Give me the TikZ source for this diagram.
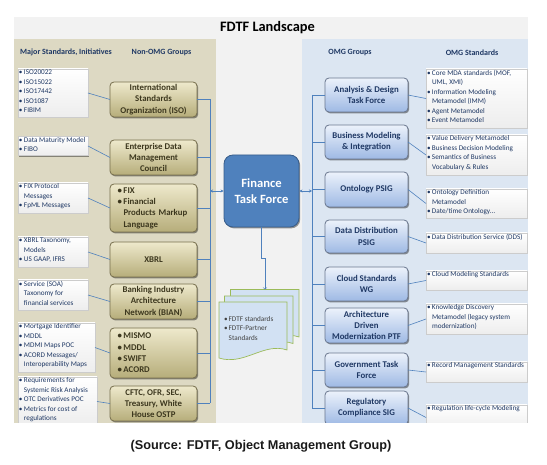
\documentclass[tikz,border=0pt]{standalone}
\usepackage{fontspec}
\setmainfont{Carlito}
\newfontfamily\captionfont{Liberation Sans}
\usetikzlibrary{shadows,arrows.meta}

\newlength{\du}
\setlength{\du}{1pt}

\definecolor{pagegray}{RGB}{242,242,242}
\definecolor{tanpanel}{RGB}{221,217,195}
\definecolor{bluepanel}{RGB}{220,230,242}
\definecolor{tantop}{RGB}{238,233,204}
\definecolor{tanbot}{RGB}{182,173,122}
\definecolor{tanedge}{RGB}{118,110,76}
\definecolor{tantext}{RGB}{60,55,30}
\definecolor{bluetop}{RGB}{236,242,251}
\definecolor{bluebot}{RGB}{158,185,228}
\definecolor{blueedge}{RGB}{105,118,142}
\definecolor{navytext}{RGB}{31,56,100}
\definecolor{linkblue}{RGB}{79,129,189}
\definecolor{ftfblue}{RGB}{79,129,189}
\definecolor{ftfedge}{RGB}{56,93,138}
\definecolor{docfill}{RGB}{210,225,243}
\definecolor{docedge}{RGB}{155,187,89}

\newcommand{\itm}[2][5pt]{\makebox[#1][l]{\textbullet}#2}
\newcommand{\cnt}[2][5pt]{\hspace*{#1}#2}
\newcommand{\stdtext}[3]{\parbox[c][#2][t]{#1}{\raggedright #3}}

\tikzset{
  boxshadow/.style={drop shadow={shadow xshift=1.2pt,shadow yshift=-1.4pt,opacity=0.4,fill=black}},
  stdbox/.style={draw=gray!40, line width=0.4pt, top color=white, bottom color=gray!14,
    inner sep=1pt, outer sep=0pt, font=\fontsize{7.2}{9.5}\selectfont, text=navytext, boxshadow},
  tanbox/.style={draw=tanedge, line width=0.8pt, rounded corners=4pt, top color=tantop,
    bottom color=tanbot, minimum width=87\du, align=center, inner sep=1pt, outer sep=0pt,
    font=\fontsize{8.8}{11.3}\selectfont\bfseries, text=tantext, boxshadow},
  groupbox/.style={draw=blueedge, line width=0.8pt, rounded corners=4pt, top color=bluetop,
    bottom color=bluebot, minimum width=83\du, align=center, inner sep=1pt, outer sep=0pt,
    font=\fontsize{8.8}{11.2}\selectfont\bfseries, text=navytext, boxshadow},
  ftfbox/.style={draw=ftfedge, line width=0.8pt, fill=ftfblue, rounded corners=9pt,
    minimum width=75\du, minimum height=72\du, align=center, text=white,
    font=\fontsize{12.6}{16.5}\selectfont\bfseries, boxshadow},
  header/.style={font=\fontsize{8}{9.6}\selectfont\bfseries, text=navytext},
  link/.style={draw=linkblue, line width=0.6pt},
  docsheet/.style={fill=docfill, draw=docedge, line width=0.7pt},
}

\begin{document}
\begin{tikzpicture}
\pgftransformxscale{1.000000}
\pgftransformyscale{-1.000000}
\useasboundingbox (0\du,0\du) rectangle (547\du,465\du);
% panels
\fill[pagegray] (14\du,17\du) rectangle (528\du,423\du);
\fill[tanpanel] (14\du,39\du) rectangle (216\du,423\du);
\fill[bluepanel] (302\du,39\du) rectangle (528\du,423\du);
\node[font=\bfseries\fontsize{14.4}{17}\selectfont] (title) at (267.5\du,28\du) {FDTF Landscape};
\node[header] (hmajor) at (66\du,52\du) {Major Standards, Initiatives};
\node[header] (hnonomg) at (161.5\du,53\du) {Non-OMG Groups};
\node[header] (homg) at (350\du,53\du) {OMG Groups};
\node[header] (homgstd) at (472\du,53\du) {OMG Standards};
\coordinate (lbus) at (210\du,0\du);
\coordinate (rbus) at (312\du,0\du);
\begin{scope}
\clip (14\du,17\du) rectangle (528\du,423\du);
% major standards
\node[stdbox] (ls1) at (53\du,93\du) {\stdtext{68\du}{46\du}{\itm{ISO20022}\\\itm{ISO15022}\\\itm{ISO17442}\\\itm{ISO1087}\\\itm{FIBIM}}};
\node[stdbox] (ls2) at (53\du,146\du) {\stdtext{68\du}{17\du}{\itm{Data Maturity Model}\\\itm{FIBO}}};
\node[stdbox] (ls3) at (53\du,198\du) {\stdtext{68\du}{28\du}{\itm{FIX Protocol}\\\cnt{Messages}\\\itm{FpML Messages}}};
\node[stdbox] (ls4) at (53\du,252\du) {\stdtext{68\du}{28\du}{\itm{XBRL Taxonomy,}\\\cnt{Models}\\\itm{US GAAP, IFRS}}};
\node[stdbox] (ls5) at (53\du,295\du) {\stdtext{68\du}{28\du}{\itm{Service (SOA)}\\\cnt{Taxonomy for}\\\cnt{financial services}}};
\node[stdbox] (ls6) at (56.5\du,347.5\du) {\stdtext{75\du}{47\du}{\itm{Mortgage Identifier}\\\itm{MDDL}\\\itm{MDMI Maps POC}\\\itm{ACORD Messages/}\\\cnt{Interoperability Maps}}};
\node[stdbox] (ls7) at (57.5\du,401.5\du) {\stdtext{77\du}{47\du}{\itm{Requirements for}\\\cnt{Systemic Risk Analysis}\\\itm{OTC Derivatives POC}\\\itm{Metrics for cost of}\\\cnt{regulations}}};
% non-OMG groups
\node[tanbox, minimum height=35\du] (ng1) at (153.5\du,99.5\du) {International\\Standards\\Organization (ISO)};
\node[tanbox, minimum height=35\du] (ng2) at (153.5\du,157.5\du) {Enterprise Data\\Management\\Council};
\node[tanbox, minimum height=48\du, text width=72\du, align=left] (ng3) at (153.5\du,208\du) {\itm[6pt]{FIX}\\\itm[6pt]{Financial}\\\cnt[6pt]{Products Markup}\\\cnt[6pt]{Language}};
\node[tanbox, minimum height=35\du] (ng4) at (153.5\du,259.5\du) {XBRL};
\node[tanbox, minimum height=35\du] (ng5) at (153.5\du,301.5\du) {Banking Industry\\Architecture\\Network (BIAN)};
\node[tanbox, minimum height=50\du, text width=72\du, align=left] (ng6) at (153.5\du,353\du) {\itm[6pt]{MISMO}\\\itm[6pt]{MDDL}\\\itm[6pt]{SWIFT}\\\itm[6pt]{ACORD}};
\node[tanbox, minimum height=35\du] (ng7) at (153.5\du,403.5\du) {CFTC, OFR, SEC,\\Treasury, White\\House OSTP};
% OMG groups
\node[groupbox, minimum height=34\du] (og1) at (366.5\du,95\du) {Analysis \& Design\\Task Force};
\node[groupbox, minimum height=34\du] (og2) at (366.5\du,142\du) {Business Modeling\\\& Integration};
\node[groupbox, minimum height=35\du] (og3) at (366.5\du,189.5\du) {Ontology PSIG};
\node[groupbox, minimum height=33\du] (og4) at (366.5\du,236.5\du) {Data Distribution\\PSIG};
\node[groupbox, minimum height=34\du] (og5) at (366.5\du,284\du) {Cloud Standards\\WG};
\node[groupbox, minimum height=35\du] (og6) at (366.5\du,325.5\du) {Architecture\\Driven\\Modernization PTF};
\node[groupbox, minimum height=34\du] (og7) at (366.5\du,370\du) {Government Task\\Force};
\node[groupbox, minimum height=34\du] (og8) at (366.5\du,408\du) {Regulatory\\Compliance SIG};
% OMG standards
\node[stdbox] (rs1) at (476.5\du,98.5\du) {\stdtext{99\du}{57\du}{\itm{Core MDA standards (MOF,}\\\cnt{UML, XMI)}\\\itm{Information Modeling}\\\cnt{Metamodel (IMM)}\\\itm{Agent Metamodel}\\\itm{Event Metamodel}}};
\node[stdbox] (rs2) at (476.5\du,155\du) {\stdtext{99\du}{38\du}{\itm{Value Delivery Metamodel}\\\itm{Business Decision Modeling}\\\itm{Semantics of Business}\\\cnt{Vocabulary \& Rules}}};
\node[stdbox] (rs3) at (476.5\du,203.5\du) {\stdtext{99\du}{27\du}{\itm{Ontology Definition}\\\cnt{Metamodel}\\\itm{Date/time Ontology\dots}}};
\node[stdbox] (rs4) at (476.5\du,243\du) {\stdtext{99\du}{18\du}{\itm{Data Distribution Service (DDS)}}};
\node[stdbox] (rs5) at (476.5\du,280.5\du) {\stdtext{99\du}{17\du}{\itm{Cloud Modeling Standards}}};
\node[stdbox] (rs6) at (476.5\du,319\du) {\stdtext{99\du}{28\du}{\itm{Knowledge Discovery}\\\cnt{Metamodel (legacy system}\\\cnt{modernization)}}};
\node[stdbox] (rs7) at (476.5\du,372\du) {\stdtext{99\du}{18\du}{\itm{Record Management Standards}}};
\node[stdbox] (rs8) at (476.5\du,417.5\du) {\stdtext{99\du}{23\du}{\itm{Regulation life-cycle Modeling}}};
\end{scope}
% finance task force and its documents
\node[ftfbox] (ftf) at (261.5\du,191\du) {Finance\\Task Force};
\filldraw[docsheet] (230.5\du,289.5\du) -- (299\du,289.5\du) -- (299\du,337\du) .. controls (276\du,329\du) and (256\du,353\du) .. (230.5\du,345\du) -- cycle;
\filldraw[docsheet] (224.5\du,296\du) -- (293\du,296\du) -- (293\du,343.5\du) .. controls (270\du,335.5\du) and (250\du,359.5\du) .. (224.5\du,351.5\du) -- cycle;
\filldraw[docsheet] (219\du,302\du) -- (287\du,302\du) -- (287\du,350\du) .. controls (264\du,342\du) and (244\du,366\du) .. (219\du,358\du) -- cycle;
\coordinate (docs top) at (265\du,289.5\du);
\node[anchor=north west, inner sep=0pt, align=left, font=\fontsize{7.2}{9.5}\selectfont, text=black!75] (fdtfdocs) at (224\du,316\du) {\itm[4.5pt]{FDTF standards}\\\itm[4.5pt]{FDTF-Partner}\\\cnt[4.5pt]{Standards}};
% connectors
\draw[link] (ls1.east) -- (ng1.west);
\draw[link] (ls2.east) -- (ng2.west);
\draw[link] (ls3.east) -- (ng3.west);
\draw[link] (ls4.east) -- (ng4.west);
\draw[link] (ls5.east) -- (ng5.west);
\draw[link] (ls6.east) -- (ng6.west);
\draw[link] (ls7.east) -- (ng7.west);
\draw[link] (ng1.east) -- (ng1.east -| lbus);
\draw[link] (ng2.east) -- (ng2.east -| lbus);
\draw[link] (ng3.east) -- (ng3.east -| lbus);
\draw[link] (ng4.east) -- (ng4.east -| lbus);
\draw[link] (ng5.east) -- (ng5.east -| lbus);
\draw[link] (ng6.east) -- (ng6.east -| lbus);
\draw[link] (ng7.east) -- (ng7.east -| lbus);
\draw[link] (ng1.east -| lbus) -- (ng7.east -| lbus);
\draw[link, {Stealth[length=3pt,width=3pt]}-{Stealth[length=3pt,width=3pt]}] (ftf.west -| lbus) -- (ftf.west);
\draw[link, {Stealth[length=3pt,width=3pt]}-{Stealth[length=3pt,width=3pt]}] (ftf.east) -- (ftf.east -| rbus);
\draw[link, -to] (ftf.south) -- ++(0\du,31\du) -| (docs top);
\draw[link] (og1.west -| rbus) -- (og8.west -| rbus);
\draw[link] (og1.west -| rbus) -- (og1.west);
\draw[link] (og2.west -| rbus) -- (og2.west);
\draw[link] (og3.west -| rbus) -- (og3.west);
\draw[link] (og4.west -| rbus) -- (og4.west);
\draw[link] (og5.west -| rbus) -- (og5.west);
\draw[link] (og6.west -| rbus) -- (og6.west);
\draw[link] (og7.west -| rbus) -- (og7.west);
\draw[link] (og8.west -| rbus) -- (og8.west);
\draw[link] (og1.east) -- (rs1.west);
\draw[link] (og2.east) -- (rs2.west);
\draw[link] (og3.east) -- (rs3.west);
\draw[link] (og4.east) -- (rs4.west);
\draw[link] (og5.east) -- (rs5.west);
\draw[link] (og6.east) -- (rs6.west);
\draw[link] (og7.east) -- (rs7.west);
\draw[link] (og8.east) -- (rs8.west);
% source line
\node[font=\captionfont\bfseries\fontsize{12.7}{15}\selectfont, text=black!90] (source) at (261\du,446.5\du) {(Source: FDTF, Object Management Group)};
\end{tikzpicture}
\end{document}
